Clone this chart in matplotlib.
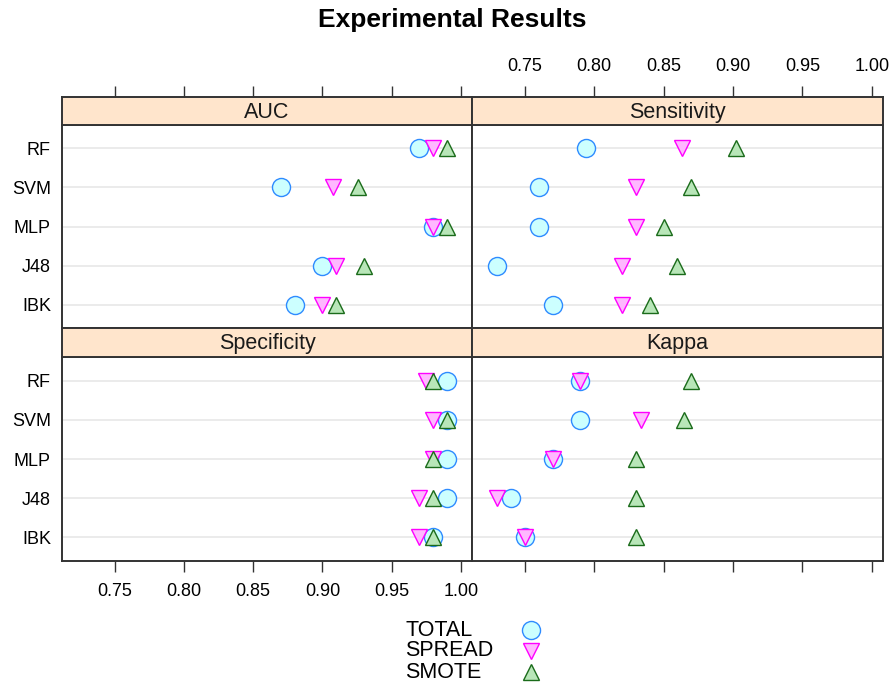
import matplotlib
matplotlib.use("Agg")
import matplotlib.pyplot as plt
from matplotlib.lines import Line2D

plt.rcParams['font.family'] = ['Liberation Sans', 'DejaVu Sans']

# data (rows listed top to bottom as in the chart)
methods = ["RF", "SVM", "MLP", "J48", "IBK"]
groups = ["TOTAL", "SPREAD", "SMOTE"]

auc_total = [0.970, 0.870, 0.980, 0.900, 0.880]
auc_spread = [0.980, 0.908, 0.980, 0.910, 0.900]
auc_smote = [0.990, 0.926, 0.990, 0.930, 0.910]

sens_total = [0.794, 0.760, 0.760, 0.730, 0.770]
sens_spread = [0.863, 0.830, 0.830, 0.820, 0.820]
sens_smote = [0.902, 0.870, 0.850, 0.860, 0.840]

spec_total = [0.990, 0.990, 0.990, 0.990, 0.980]
spec_spread = [0.975, 0.980, 0.980, 0.970, 0.970]
spec_smote = [0.980, 0.990, 0.980, 0.980, 0.980]

kappa_total = [0.790, 0.790, 0.770, 0.740, 0.750]
kappa_spread = [0.790, 0.834, 0.770, 0.730, 0.750]
kappa_smote = [0.870, 0.865, 0.830, 0.830, 0.830]

xticks = [0.75, 0.80, 0.85, 0.90, 0.95, 1.00]
xlim = (0.712, 1.008)

# marker styles (lattice superpose.symbol look)
styles = [
    dict(marker='o', ms=13, mfc='#CCFFFF', mec='#2E8BFF'),
    dict(marker='v', ms=11.5, mfc='#FFB8FF', mec='#FF00FF'),
    dict(marker='^', ms=11.5, mfc='#B8E6B8', mec='#1A6B1A'),
]

W, H = 890, 682
fig = plt.figure(figsize=(W / 100, H / 100), dpi=100)

def fx(px):
    return px / W

def fy(py):
    return 1 - py / H

# panel geometry in pixels: (left, right, strip top, strip bottom, body bottom)
cols = [(62, 472), (472, 883)]
rows = [(97, 125, 328), (328, 357, 561)]

panels = [
    ("AUC", 0, 0, [auc_total, auc_spread, auc_smote]),
    ("Sensitivity", 0, 1, [sens_total, sens_spread, sens_smote]),
    ("Specificity", 1, 0, [spec_total, spec_spread, spec_smote]),
    ("Kappa", 1, 1, [kappa_total, kappa_spread, kappa_smote]),
]

ypos = list(range(len(methods), 0, -1))
edge = '#333333'

for name, r, c, series in panels:
    l, rt = cols[c]
    st, sb, bb = rows[r]
    body = fig.add_axes([fx(l), fy(bb), fx(rt - l), (bb - sb) / H])
    strip = fig.add_axes([fx(l), fy(sb), fx(rt - l), (sb - st) / H])

    for a in (body, strip):
        a.set_xlim(*xlim)
        for s in a.spines.values():
            s.set_color(edge)
            s.set_linewidth(1.4)
        a.set_xticks(xticks)
        a.tick_params(axis='x', direction='out', length=8, width=1,
                      color=edge, labelsize=13, pad=8)

    strip.set_facecolor('#FFE5CC')
    strip.set_ylim(0, 1)
    strip.set_yticks([])
    strip.text(sum(xlim) / 2, 0.45, name, ha='center', va='center',
               fontsize=15.5, color='#1a1a1a')

    body.set_ylim(0.4, len(methods) + 0.6)
    for y in ypos:
        body.axhline(y, color='#E6E6E6', lw=1.1, zorder=0)
    for vals, st_ in zip(series, styles):
        body.plot(vals, ypos, ls='none', mew=1.0, zorder=3, **st_)

    if c == 0:
        body.set_yticks(ypos)
        body.set_yticklabels(methods)
        body.tick_params(axis='y', length=0, labelsize=13, pad=8)
    else:
        body.set_yticks([])

    # x ticks: top of the strip in first row, bottom of body in last row
    if r == 0:
        body.tick_params(axis='x', bottom=False, labelbottom=False)
        strip.tick_params(axis='x', bottom=False, labelbottom=False,
                          top=True, labeltop=(c == 1))
    else:
        strip.tick_params(axis='x', bottom=False, labelbottom=False)
        body.tick_params(axis='x', bottom=True, labelbottom=(c == 0))

fig.text(fx(452), fy(20), "Experimental Results", ha='center', va='center',
         fontsize=19, fontweight='bold')

# key below the panels
key_y = [630, 651, 672]
for g, st_, ky in zip(groups, styles, key_y):
    fig.text(fx(405), fy(ky), g, ha='left', va='center', fontsize=15.5)
    fig.add_artist(Line2D([fx(531)], [fy(ky)], transform=fig.transFigure,
                          ls='none', mew=1.0, **st_))

fig.savefig("out.png", dpi=100)
